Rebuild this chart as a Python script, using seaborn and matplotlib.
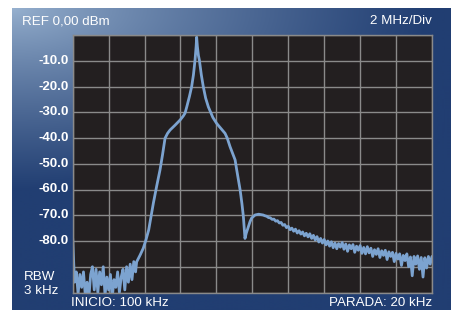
import numpy as np
import pandas as pd
import matplotlib
matplotlib.use("Agg")
import matplotlib.pyplot as plt
import seaborn as sns

# ---------------- data ----------------
# noise floor below the signal (MHz, dBm)
floor_mhz = [0.0, 0.1, 0.2, 0.3, 0.4, 0.5, 0.6, 0.7, 0.8, 0.9,
             1.0, 1.1, 1.2, 1.3, 1.4, 1.5, 1.6, 1.7, 1.8, 1.9,
             2.0, 2.1, 2.2, 2.3, 2.4, 2.5, 2.6, 2.7, 2.8, 2.9,
             3.0, 3.1, 3.2, 3.3, 3.4, 3.5]
floor_dbm = [-79.0, -96.0, -92.0, -100.5, -93.0, -98.0, -92.0, -101.0, -96.0, -102.0,
             -93.0, -90.0, -99.0, -91.0, -100.0, -92.0, -97.0, -90.0, -101.0, -94.0,
             -99.0, -93.0, -102.0, -95.0, -98.0, -92.0, -100.0, -94.0, -91.0, -99.0,
             -90.0, -96.0, -89.0, -95.0, -88.0, -92.0]

# main lobe (MHz, dBm)
lobe_mhz = [3.56, 3.75, 3.93, 4.08, 4.23, 4.36, 4.49, 4.68, 4.86, 5.00,
            5.14, 5.28, 5.42, 5.70, 5.98, 6.15, 6.25, 6.35, 6.50, 6.62,
            6.72, 6.81, 6.87, 6.90, 6.94, 7.00, 7.05, 7.16, 7.27, 7.40,
            7.55, 7.80, 8.02, 8.25, 8.48, 8.60, 8.76, 8.90, 9.04, 9.13,
            9.22, 9.32, 9.42, 9.50, 9.59, 9.66, 9.78, 9.87, 9.96, 10.15,
            10.35, 10.52]
lobe_dbm = [-88.1, -85.5, -82.8, -79.5, -75.7, -70.5, -65.3, -58.5, -52.4, -46.5,
            -40.1, -38.2, -36.9, -35.0, -33.0, -31.5, -30.4, -27.9, -23.8, -20.1,
            -15.5, -9.7, -4.5, -0.8, -4.5, -8.0, -9.7, -15.5, -20.1, -24.5,
            -27.9, -32.0, -34.4, -36.3, -38.2, -40.0, -43.4, -46.0, -48.5, -52.4,
            -56.0, -60.2, -65.5, -70.5, -79.0, -77.0, -74.4, -72.5, -71.1, -69.9,
            -69.6, -69.8]

# decaying tail (MHz, dBm)
tail_mhz = [10.6, 10.7, 10.8, 10.9, 11.0, 11.1, 11.2, 11.3, 11.4, 11.5,
            11.6, 11.7, 11.8, 11.9, 12.0, 12.1, 12.2, 12.3, 12.4, 12.5,
            12.6, 12.7, 12.8, 12.9, 13.0, 13.1, 13.2, 13.3, 13.4, 13.5,
            13.6, 13.7, 13.8, 13.9, 14.0, 14.1, 14.2, 14.3, 14.4, 14.5,
            14.6, 14.7, 14.8, 14.9, 15.0, 15.1, 15.2, 15.3, 15.4, 15.5,
            15.6, 15.7, 15.8, 15.9, 16.0, 16.1, 16.2, 16.3, 16.4, 16.5,
            16.6, 16.7, 16.8, 16.9, 17.0, 17.1, 17.2, 17.3, 17.4, 17.5,
            17.6, 17.7, 17.8, 17.9, 18.0, 18.1, 18.2, 18.3, 18.4, 18.5,
            18.6, 18.7, 18.8, 18.9, 19.0, 19.1, 19.2, 19.3, 19.4, 19.5,
            19.6, 19.7, 19.8, 19.9, 20.0]
tail_dbm = [-69.9, -70.2, -70.4, -70.9, -71.0, -71.6, -71.5, -72.3, -72.1, -73.0,
            -72.8, -73.9, -73.6, -74.8, -74.3, -75.6, -75.0, -76.2, -75.4, -76.9,
            -76.0, -77.3, -76.5, -78.0, -77.0, -78.4, -77.2, -79.0, -77.8, -79.6,
            -78.3, -80.4, -79.0, -80.8, -79.4, -81.5, -80.0, -82.0, -80.3, -82.6,
            -80.8, -83.0, -81.0, -82.4, -80.6, -83.2, -81.2, -84.0, -81.5, -83.0,
            -81.4, -84.4, -82.0, -83.6, -81.8, -84.8, -82.5, -85.0, -82.2, -84.6,
            -82.8, -86.0, -83.4, -85.2, -83.0, -86.4, -83.8, -85.6, -83.6, -87.2,
            -84.2, -86.0, -84.4, -88.0, -84.8, -87.0, -85.0, -89.5, -85.6, -87.6,
            -85.0, -90.0, -86.2, -93.5, -86.0, -89.0, -85.8, -91.0, -86.4, -94.0,
            -86.5, -90.5, -86.0, -89.0, -86.0]

y_tick_values = [-10, -20, -30, -40, -50, -60, -70, -80]
y_tick_labels = ["-10.0", "-20.0", "-30.0", "-40.0", "-50.0", "-60.0", "-70.0", "-80.0"]
x_grid_mhz = [0, 2, 4, 6, 8, 10, 12, 14, 16, 18, 20]
y_grid_dbm = [-100, -90, -80, -70, -60, -50, -40, -30, -20, -10, 0]

ref_text = "REF 0,00 dBm"
div_text = "2 MHz/Div"
rbw_text = "RBW\n3 kHz"
start_text = "INICIO: 100 kHz"
stop_text = "PARADA: 20 kHz"

df = pd.DataFrame({
    "freq": floor_mhz + lobe_mhz + tail_mhz,
    "level": floor_dbm + lobe_dbm + tail_dbm,
})

# ---------------- style ----------------
sns.set_theme(style="dark")
plt.rcParams["font.family"] = ["Liberation Sans", "DejaVu Sans"]

W, H = 451, 310
fig = plt.figure(figsize=(W / 100, H / 100), dpi=100)
fig.patch.set_facecolor("white")

# blue instrument panel with gradient
bg = fig.add_axes([12 / W, 0, 1 - 12 / W, 1 - 8 / H])
gh, gw = 300, 440
yy, xx = np.mgrid[0:gh, 0:gw]
d = np.sqrt((xx / gw / 0.95) ** 2 + (yy / gh / 0.6) ** 2)
t = np.clip(d, 0, 1) ** 0.8
light = np.array([152, 178, 208]) / 255
dark = np.array([33, 62, 114]) / 255
img = light * (1 - t[..., None]) + dark * t[..., None]
bg.imshow(img, aspect="auto", extent=[0, 1, 0, 1], origin="upper")
bg.set_axis_off()

# plot area
ax = fig.add_axes([72.7 / W, 1 - 292.5 / H, (432 - 72.7) / W, (292.5 - 35) / H])
ax.set_facecolor("#231f20")
sns.lineplot(data=df, x="freq", y="level", ax=ax, sort=False, estimator=None,
             color="#7ca3d0", linewidth=2.0)
ax.set_xlim(0, 20)
ax.set_ylim(-100, 0)
ax.set_xticks(x_grid_mhz)
ax.set_xticklabels([])
ax.set_yticks(y_grid_dbm)
ax.set_yticklabels([])
ax.grid(True, color="#8a8a8a", linewidth=1.0)
ax.set_axisbelow(True)
ax.tick_params(length=0)
ax.set_xlabel("")
ax.set_ylabel("")
for s in ax.spines.values():
    s.set_visible(True)
    s.set_color("#8a8a8a")
    s.set_linewidth(1.0)

# y labels
for v, lab in zip(y_tick_values, y_tick_labels):
    ax.text(-0.012, (v + 100) / 100, lab, transform=ax.transAxes, ha="right",
            va="center", color="white", fontsize=9.5, fontweight="bold")

def ftext(x, y, s, **kw):
    fig.text(x / W, 1 - y / H, s, color="white", **kw)

ftext(22, 21, ref_text, ha="left", va="center", fontsize=9.6)
ftext(432, 21, div_text, ha="right", va="center", fontsize=9.6)
ftext(24, 284, rbw_text, ha="left", va="center", fontsize=9.6, linespacing=1.25)
ftext(71, 302.5, start_text, ha="left", va="center", fontsize=9.6)
ftext(432, 302.5, stop_text, ha="right", va="center", fontsize=9.6)

fig.savefig("out.png", dpi=100, facecolor=fig.get_facecolor())
